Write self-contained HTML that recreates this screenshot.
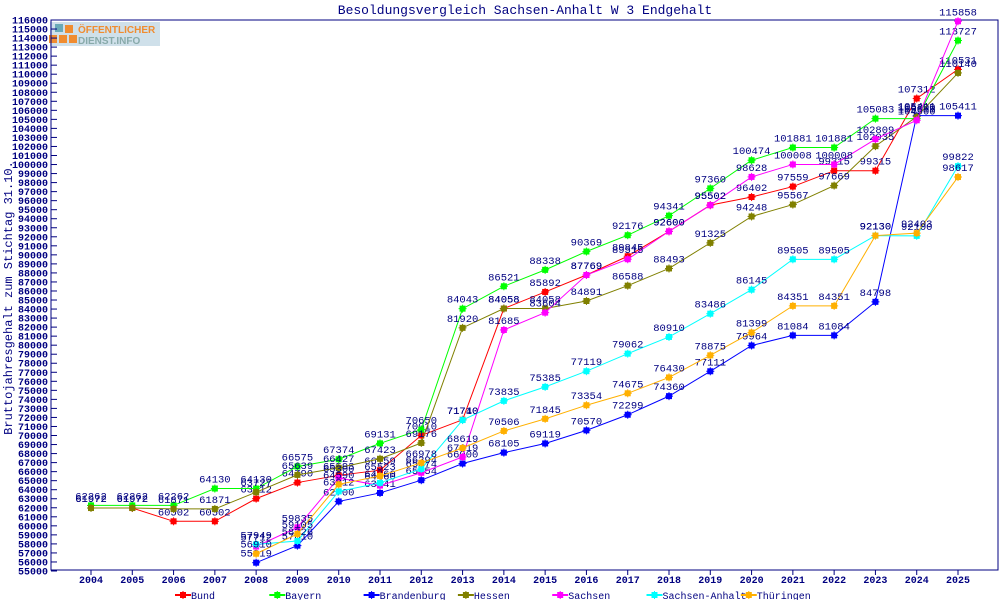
<!DOCTYPE html>
<html><head><meta charset="utf-8"><style>
body{margin:0;background:#fff;}
svg{display:block;font-family:"Liberation Mono",monospace;}
</style></head><body>
<svg id="chart" width="1000" height="600" viewBox="0 0 1000 600" xmlns="http://www.w3.org/2000/svg">
<text x="525" y="14" text-anchor="middle" font-size="13" fill="#000080">Besoldungsvergleich Sachsen-Anhalt W 3 Endgehalt</text>
<text transform="translate(12,298) rotate(-90)" text-anchor="middle" font-size="12" fill="#000080">Bruttojahresgehalt zum Stichtag 31.10.</text>
<g>
<rect x="50" y="22" width="110" height="24" fill="#cfe0ea"/>
<rect x="55" y="24" width="8" height="8" fill="#6aaab8"/>
<rect x="65" y="25" width="8" height="8" fill="#f08c30"/>
<rect x="49" y="35" width="8" height="8" fill="#f08c30"/><rect x="59" y="35" width="8" height="8" fill="#f08c30"/><rect x="69" y="35" width="8" height="8" fill="#f08c30"/>
<text x="78" y="33" font-family="Liberation Sans,sans-serif" font-weight="bold" font-size="10" fill="#f08c30">ÖFFENTLICHER</text>
<text x="78" y="44" font-family="Liberation Sans,sans-serif" font-weight="bold" font-size="10" fill="#8aa">DIENST.INFO</text>
</g>
<rect x="51" y="20" width="947" height="550" fill="none" stroke="#000080" stroke-width="1"/>
<g id="axes"></g><g id="series"></g><g id="legend"></g>
</svg>
<script>
const years=[2004,2005,2006,2007,2008,2009,2010,2011,2012,2013,2014,2015,2016,2017,2018,2019,2020,2021,2022,2023,2024,2025];
const seriesNames=["Bund","Bayern","Brandenburg","Hessen","Sachsen","Sachsen-Anhalt","Thüringen"];
const seriesColors=["#ff0000","#00ff00","#0000ff","#808000","#ff00ff","#00ffff","#ffb000"];
const bund=[61972,61972,60502,60502,63012,64790,65593,66159,70010,71740,84058,85892,87769,89845,92600,95502,96402,97559,99315,99315,107312,110531];
const bayern=[62262,62262,62262,64130,64130,66575,67374,69131,70650,84043,86521,88338,90369,92176,94341,97360,100474,101881,101881,105083,105083,113727];
const brandenburg=[null,null,null,null,55919,57810,62700,63641,65054,66900,68105,69119,70570,72299,74360,77111,79964,81084,81084,84798,105411,105411];
const hessen=[61972,61972,61871,61871,63727,65639,66427,67423,69176,81920,84058,84058,84891,86588,88493,91325,94248,95567,97669,102035,105300,110140];
const sachsen=[null,null,null,null,57712,59835,65300,64460,65874,67619,81685,83604,87769,89515,92600,95502,98628,100008,100008,102809,104900,115858];
const sachsenAnhalt=[null,null,null,null,57949,58326,63812,64760,66294,71710,73835,75385,77119,79062,80910,83486,86145,89505,89505,92130,92100,99822];
const thueringen=[null,null,null,null,56910,59105,64590,65523,66978,68619,70506,71845,73354,74675,76430,78875,81399,84351,84351,92130,92403,98617];
const allSeries=[bund,bayern,brandenburg,hessen,sachsen,sachsenAnhalt,thueringen];
const yMin=55000,yMax=116000,yStep=1000;
const NS="http://www.w3.org/2000/svg";
function xPos(i){return 91+i*(958-91)/(years.length-1);}
function yPos(v){return 571-(v-yMin)*(551/(yMax-yMin));}
function mk(tag,attrs,parent){const e=document.createElementNS(NS,tag);for(const k in attrs)e.setAttribute(k,attrs[k]);parent.appendChild(e);return e;}
const axes=document.getElementById('axes');
for(let v=yMin;v<=yMax;v+=yStep){
  const y=yPos(v);
  const t=mk('line',{x1:51,x2:57,y1:y,y2:y,stroke:'#000080'},axes);
  
  
  const l=mk('text',{x:48,y:y+3.5,'text-anchor':'end','font-size':'10','font-weight':'bold',fill:'#000080'},axes);
  l.textContent=v;
  
  
}
years.forEach((yr,i)=>{
  const x=xPos(i);
  const t=mk('line',{x1:x,x2:x,y1:570,y2:575,stroke:'#000080'},axes);
  
  
  const l=mk('text',{x:x,y:583,'text-anchor':'middle','font-size':'10','font-weight':'bold',fill:'#000080'},axes);
  l.textContent=yr;
  
  
});
const sg=document.getElementById('series');
function marker(x,y,c,g){
  mk('rect',{x:x-3,y:y-3,width:6,height:6,fill:c},g);
  mk('line',{x1:x-4,x2:x+4,y1:y,y2:y,stroke:c,'stroke-width':1},g);
  mk('line',{x1:x,x2:x,y1:y-4,y2:y+4,stroke:c,'stroke-width':1},g);
}
allSeries.forEach((data,s)=>{
  const g=mk('g',{},sg);
  
  
  let pts=[];
  data.forEach((v,i)=>{if(v!=null)pts.push(xPos(i)+','+yPos(v));});
  const pl=mk('polyline',{points:pts.join(' '),fill:'none',stroke:seriesColors[s],'stroke-width':1},g);
  
  
  data.forEach((v,i)=>{
    if(v==null)return;
    const x=xPos(i),y=yPos(v);
    marker(x,y,seriesColors[s],g);
    const t=mk('text',{x:x,y:y-6,'text-anchor':'middle','font-size':'10.5',fill:'#000080'},g);
    t.textContent=v;
    
    
  });
});
const lg=document.getElementById('legend');
seriesNames.forEach((n,s)=>{
  const x=175+s*94.3;
  const g=mk('g',{},lg);
  
  
  mk('line',{x1:x,x2:x+16,y1:595,y2:595,stroke:seriesColors[s],'stroke-width':2},g);
  marker(x+8,595,seriesColors[s],g);
  const t=mk('text',{x:x+16,y:599,'font-size':'10',fill:'#000080'},g);
  t.textContent=n;
});
</script>
</body></html>
